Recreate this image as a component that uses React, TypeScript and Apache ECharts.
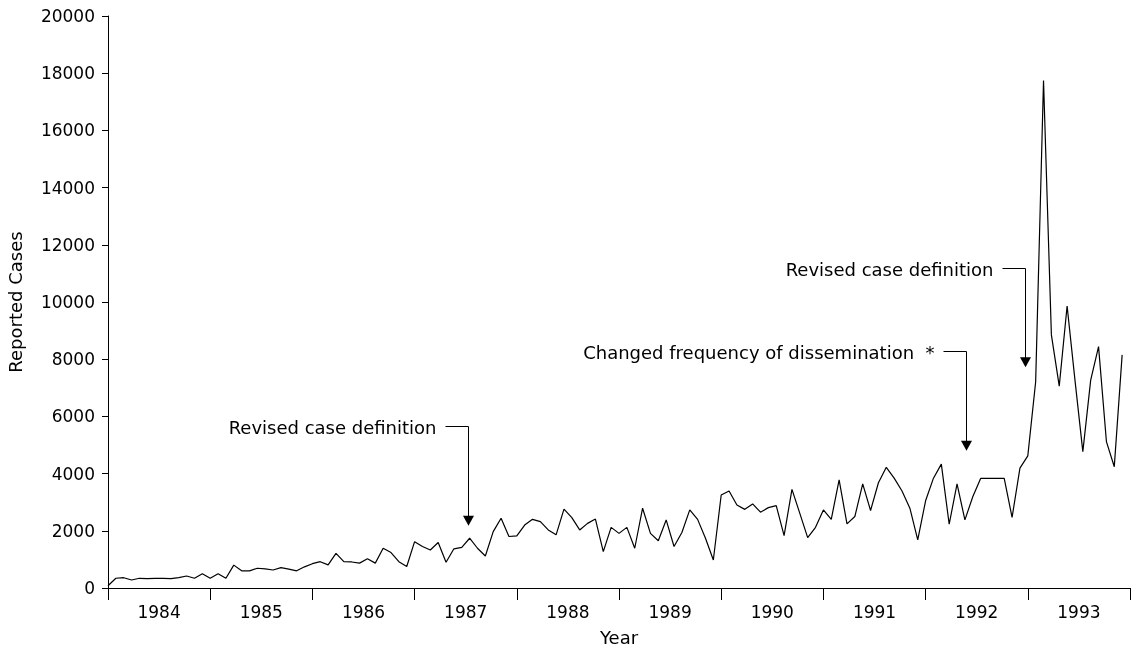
import React, { useEffect, useRef } from "react";
import * as echarts from "echarts";

// Four-week reporting periods (13 per year), 1984-1993
const years = ["1984", "1985", "1986", "1987", "1988", "1989", "1990", "1991", "1992", "1993"];
const periodsPerYear = 13;

const cases1984 = [80, 340, 360, 280, 340, 330, 340, 340, 330, 360, 420, 340, 500];
const cases1985 = [340, 500, 340, 800, 600, 600, 690, 670, 630, 710, 660, 600, 740];
const cases1986 = [850, 920, 810, 1210, 920, 910, 870, 1020, 870, 1390, 1240, 920, 750];
const cases1987 = [1620, 1450, 1330, 1590, 900, 1370, 1420, 1740, 1390, 1120, 1970, 2440, 1800];
const cases1988 = [1820, 2200, 2400, 2320, 2030, 1860, 2760, 2460, 2030, 2260, 2410, 1270, 2120];
const cases1989 = [1910, 2120, 1390, 2790, 1910, 1650, 2380, 1450, 1940, 2730, 2400, 1740, 980];
const cases1990 = [3250, 3390, 2900, 2750, 2940, 2650, 2810, 2880, 1830, 3450, 2610, 1760, 2120];
const cases1991 = [2730, 2400, 3780, 2240, 2500, 3640, 2710, 3680, 4220, 3840, 3390, 2790, 1680];
const cases1992 = [3050, 3840, 4330, 2230, 3640, 2380, 3190, 3830, 3830, 3830, 3830, 2470, 4190];
const cases1993 = [4620, 7210, 17740, 8850, 7060, 9860, 7270, 4770, 7270, 8440, 5120, 4240, 8150];

// Annotations: position (period index), arrow tip value, elbow value
const annotationTexts = ["Revised case definition", "Changed frequency of dissemination  *", "Revised case definition"];
const annotationPeriods = [45.8, 109.2, 116.7];
const annotationTips = [2180, 4800, 7720];
const annotationElbows = [5680, 8300, 11180];

const FONT = "DejaVu Sans";

export default function App() {
  const ref = useRef<HTMLDivElement>(null);

  useEffect(() => {
    if (!ref.current) return;
    const chart = echarts.init(ref.current, null, { renderer: "svg" });
    const values = [
      ...cases1984, ...cases1985, ...cases1986, ...cases1987, ...cases1988,
      ...cases1989, ...cases1990, ...cases1991, ...cases1992, ...cases1993,
    ];
    const data = values.map((v, i) => [i, v]);

    chart.setOption({
      animation: false,
      textStyle: { fontFamily: FONT, color: "#000" },
      grid: {
        left: 108,
        right: 3,
        top: 16,
        bottom: 60,
        containLabel: false,
        outerBoundsMode: "none",
      },
      xAxis: [
        {
          type: "value",
          min: 0,
          max: years.length * periodsPerYear,
          interval: periodsPerYear,
          axisLine: { show: true, lineStyle: { color: "#000", width: 1 } },
          axisTick: { show: true, length: 12, lineStyle: { color: "#000", width: 1 } },
          axisLabel: { show: false },
          splitLine: { show: false },
        },
        {
          type: "category",
          data: years,
          position: "bottom",
          boundaryGap: true,
          axisLine: { show: false },
          axisTick: { show: false },
          axisLabel: { color: "#000", fontSize: 17, margin: 15, fontFamily: FONT },
          name: "Year",
          nameLocation: "middle",
          nameGap: 40,
          nameTextStyle: { color: "#000", fontSize: 18, fontFamily: FONT },
        },
      ],
      yAxis: {
        type: "value",
        min: 0,
        max: 20000,
        interval: 2000,
        axisLine: { show: true, lineStyle: { color: "#000", width: 1 } },
        axisTick: { show: true, length: 6, lineStyle: { color: "#000", width: 1 } },
        axisLabel: {
          color: "#000",
          fontSize: 17,
          margin: 13,
          fontFamily: FONT,
          formatter: (v: number) => String(v),
        },
        splitLine: { show: false },
        name: "Reported Cases",
        nameLocation: "middle",
        nameGap: 84,
        nameTextStyle: { color: "#000", fontSize: 18, fontFamily: FONT },
      },
      series: [
        {
          type: "line",
          xAxisIndex: 0,
          yAxisIndex: 0,
          data,
          symbol: "none",
          lineStyle: { color: "#000", width: 1.2 },
        },
      ],
    });

    const graphics: any[] = [];
    annotationTexts.forEach((txt, k) => {
      const tip = chart.convertToPixel({ xAxisIndex: 0, yAxisIndex: 0 }, [annotationPeriods[k], annotationTips[k]]) as number[];
      const elbow = chart.convertToPixel({ xAxisIndex: 0, yAxisIndex: 0 }, [annotationPeriods[k], annotationElbows[k]]) as number[];
      const ax = Math.round(tip[0]) + 0.5;
      const ty = tip[1];
      const ey = Math.round(elbow[1]) + 0.5;
      graphics.push({
        type: "polyline",
        silent: true,
        shape: { points: [[ax - 23, ey], [ax, ey], [ax, ty - 9]] },
        style: { stroke: "#000", lineWidth: 1, fill: null },
      });
      graphics.push({
        type: "polygon",
        silent: true,
        shape: { points: [[ax - 5.5, ty - 10], [ax + 5.5, ty - 10], [ax, ty]] },
        style: { fill: "#000" },
      });
      graphics.push({
        type: "text",
        silent: true,
        x: ax - 32,
        y: ey + 1,
        style: {
          text: txt,
          fill: "#000",
          font: `18px "${FONT}"`,
          align: "right",
          verticalAlign: "middle",
        },
      });
    });
    chart.setOption({ graphic: graphics });

    return () => chart.dispose();
  }, []);

  return (
    <div
      ref={ref}
      style={{ position: "fixed", left: 0, top: 0, width: 1133, height: 648 }}
    />
  );
}
